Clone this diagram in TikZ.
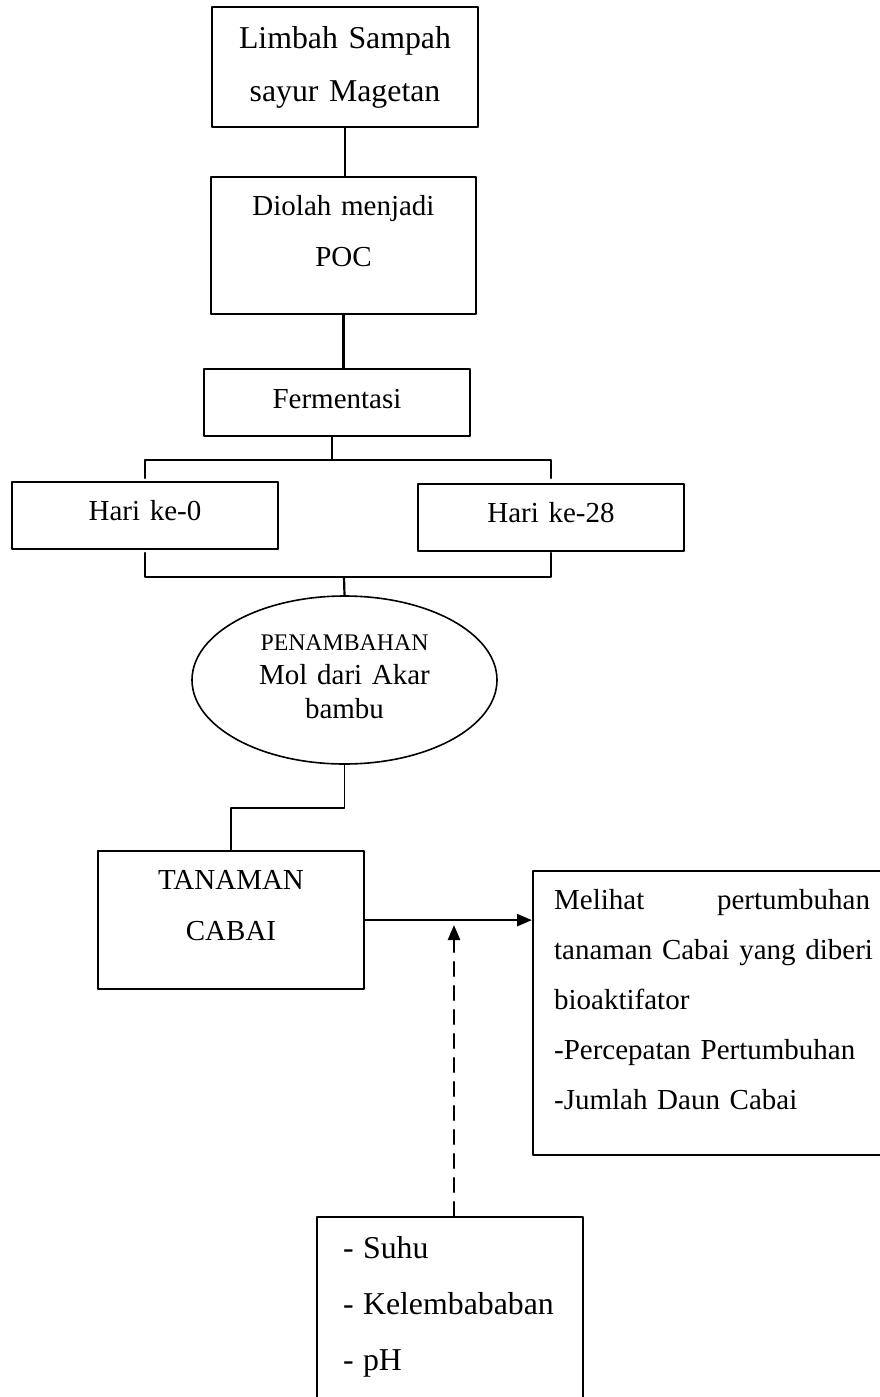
\documentclass[tikz,border=0pt]{standalone}
\usepackage{fontspec}
\setmainfont{Liberation Serif}
\usetikzlibrary{arrows.meta,shapes.geometric}

\begin{document}
\begin{tikzpicture}[line cap=round,line join=round,>={Triangle[length=15pt,width=12pt]},x=1pt,y=-1pt,
	kotak/.style={draw,line width=2.2pt,inner sep=0pt,align=center,anchor=north},
	teks/.style={font=\fontsize{29}{51}\selectfont},
	garis/.style={line width=2.2pt}]
	\useasboundingbox (0,0) rectangle (880,1397);
	\clip (0,0) rectangle (880,1397);
	% kotak alur
	\node[kotak,font=\fontsize{31.8}{53}\selectfont,text width=266pt,text height=41pt,text depth=79pt] (limbah) at (345,6) {Limbah Sampah\\sayur Magetan};
	\node[kotak,teks,text width=265pt,text height=38pt,text depth=99pt] (poc) at (343.5,176) {Diolah menjadi\\POC};
	\node[kotak,teks,text width=266pt,text height=39pt,text depth=28pt] (ferm) at (337,368) {Fermentasi};
	\node[kotak,teks,text width=266pt,text height=38pt,text depth=29pt] (hari0) at (145,481) {Hari ke-0};
	\node[kotak,teks,text width=266pt,text height=38pt,text depth=29pt] (hari28) at (551,483) {Hari ke-28};
	\node[draw,ellipse,line width=1.6pt,inner sep=0pt,minimum width=305pt,minimum height=168pt,text width=200pt,align=center,text height=20pt,text depth=80pt,font=\fontsize{29}{34}\selectfont] (mol) at (344.5,680) {{\fontsize{23.8}{34}\selectfont PENAMBAHAN}\\Mol dari Akar\\bambu};
	\node[kotak,teks,text width=266pt,text height=38pt,text depth=100pt] (cabai) at (231,850) {TANAMAN\\CABAI};
	\node[kotak,anchor=north west,inner xsep=21pt,text width=316pt,align=left,text height=38pt,text depth=246pt,font=\fontsize{29}{50}\selectfont] (hasil) at (532,870) {Melihat \hfill pertumbuhan\\\mbox{tanaman Cabai yang diberi}\\bioaktifator\\-Percepatan Pertumbuhan\\-Jumlah Daun Cabai};
	\node[kotak,anchor=north west,inner xsep=26pt,text width=214pt,align=left,text height=41pt,text depth=163pt,font=\fontsize{31.8}{56}\selectfont] (faktor) at (316,1216) {\makebox[20pt][l]{-}Suhu\\\makebox[20pt][l]{-}Kelembababan\\\makebox[20pt][l]{-}pH};
	% penghubung
	\coordinate (cabang) at (332,460);
	\coordinate (gabung) at (344,577);
	\coordinate (temu) at (454,925);
	\draw[garis] (limbah.south) -- (limbah.south |- poc.north);
	\draw[garis] (poc.south) -- (poc.south |- ferm.north);
	\draw[garis] (ferm.south -| cabang) -- (cabang);
	\draw[garis] (hari0.north |- cabang) ++(0,18) -- (hari0.north |- cabang) -- (hari28.north |- cabang) -- ++(0,18);
	\draw[garis] (hari0.south |- gabung) ++(0,-24) -- (hari0.south |- gabung) -- (hari28.south |- gabung) -- ++(0,-24);
	\draw[garis] (gabung) -- (mol.north);
	\draw[line width=1.6pt] (mol.south) -- ++(0,43) -| (cabai.north);
	\draw[->,line width=2.4pt] (cabai.east) -- (cabai.east -| hasil.west);
	\draw[->,line width=2.4pt,dash pattern=on 14pt off 10pt] (faktor.north -| temu) -- (temu);
\end{tikzpicture}
\end{document}
